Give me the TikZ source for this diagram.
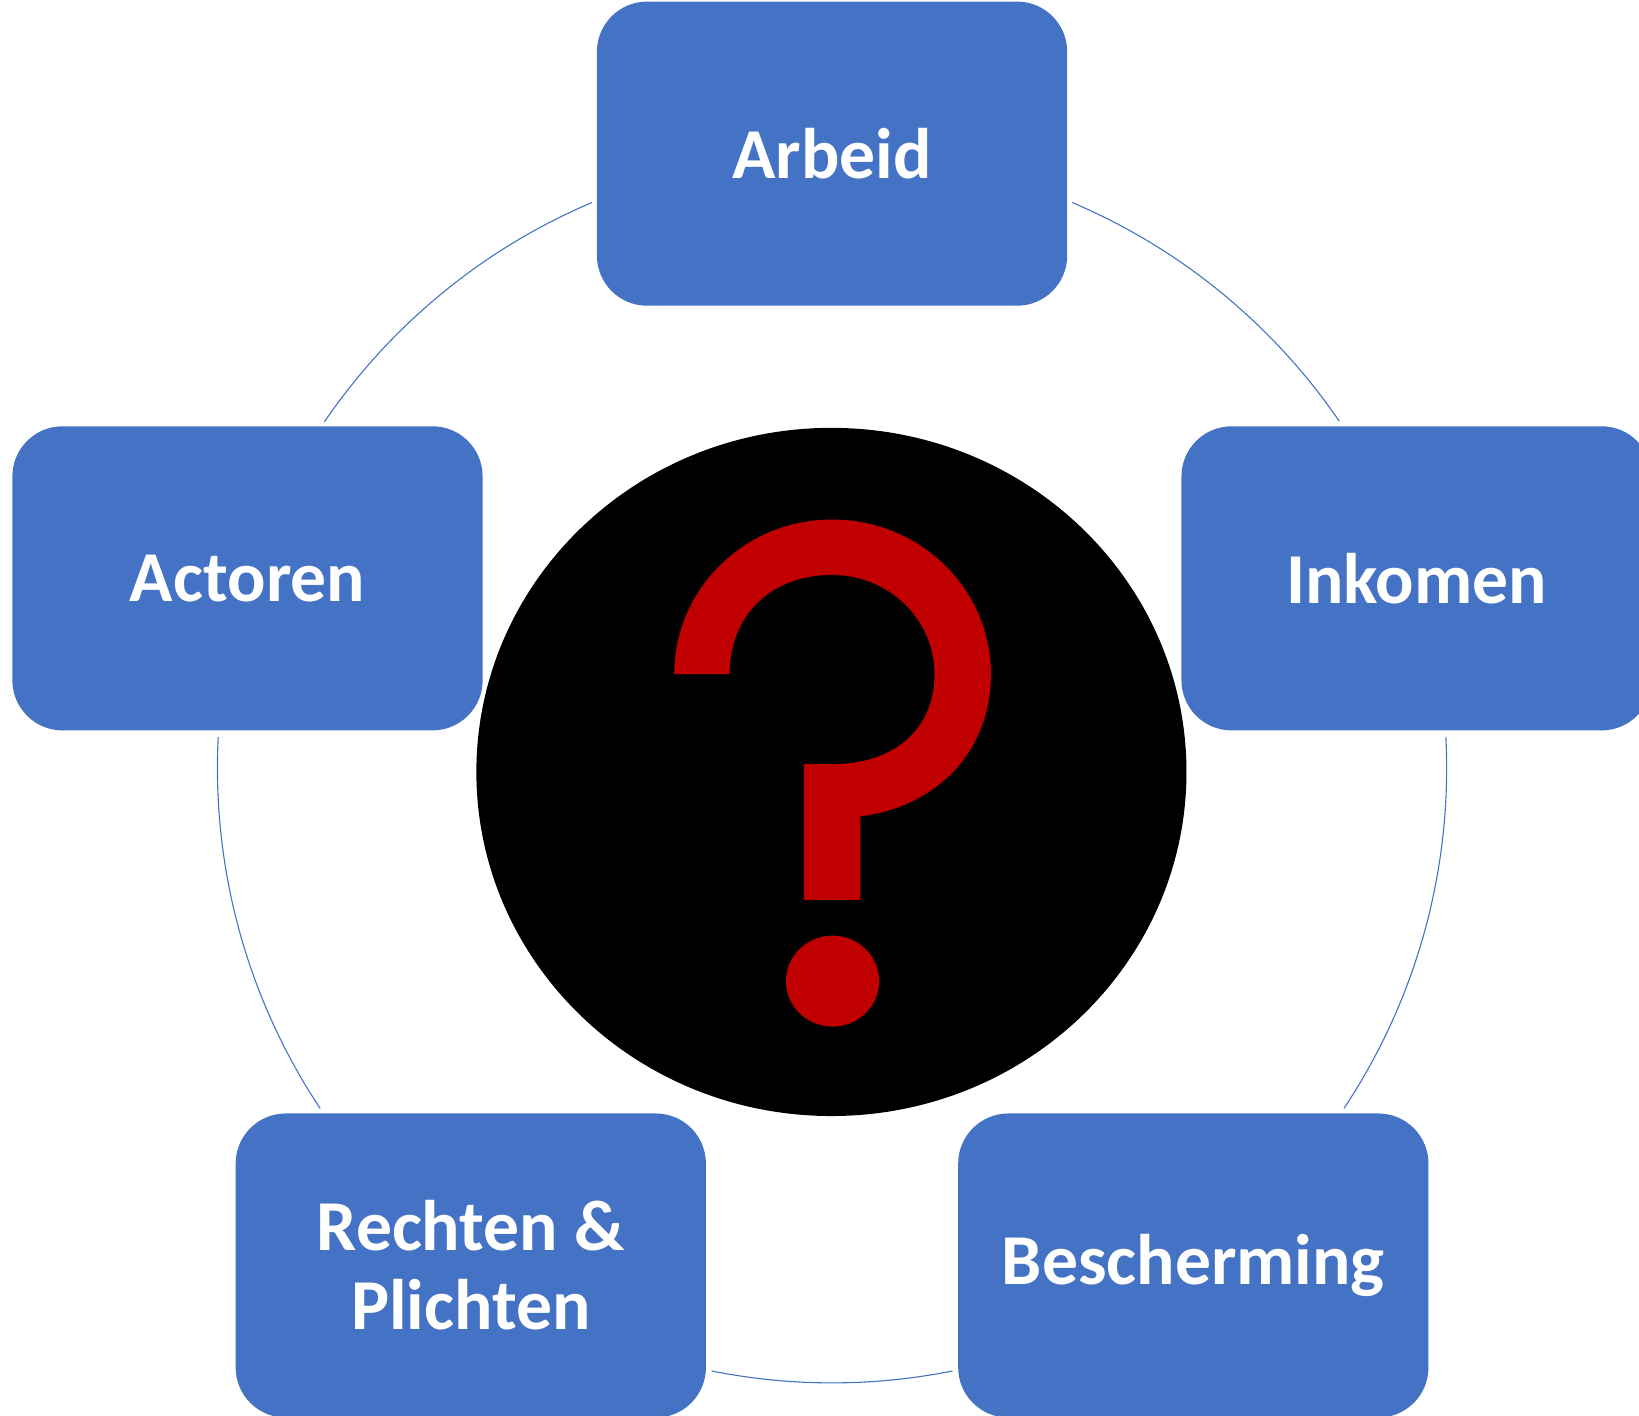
\documentclass[tikz,border=0pt]{standalone}
\usepackage{fontspec}
\setmainfont{Carlito}
\usetikzlibrary{positioning,calc,shapes.geometric}
\definecolor{boxblue}{HTML}{4472C4}
\definecolor{qred}{HTML}{C00000}

\begin{document}
\begin{tikzpicture}[x=0.02cm, y=0.02cm,
      topic/.style={rectangle, rounded corners=0.96cm, fill=boxblue, text=white,
        minimum width=9cm, minimum height=5.82cm, align=center,
        font=\fontsize{39}{43}\selectfont\bfseries},
      ring/.style={draw=boxblue, line width=0.6pt}]
    \useasboundingbox (0,0) rectangle (1568,-1354);
    \coordinate (hub) at (796,-735);
    % ring segments between the boxes
    \foreach \from/\to in {67/34.4, 2.9/-33.6, -78.7/-101.3, -146.4/-182.9, 145.7/113}
      \draw[ring] ($(hub)+(\from:588)$) arc[start angle=\from, end angle=\to, radius=588];
    % the five topics
    \foreach \name/\ang/\txt in {arbeid/90/Arbeid, inkomen/18/Inkomen,
        bescherming/-54/Bescherming, rechten/-126/{Rechten \&\\Plichten}, actoren/162/Actoren}
      \node (\name) [topic] at ($(hub)+(\ang:588)$) {\txt};
    % centre disc with question mark
    \node (disc) [ellipse, fill=black, inner sep=0pt, minimum width=13.59cm,
      minimum height=13.17cm] at (795.4,-738.5) {};
    \fill[qred] (645,-645) .. controls (645,-563) and (713,-497) .. (796,-497)
      .. controls (880,-497) and (948,-563) .. (948,-645)
      .. controls (948,-720) and (895,-772) .. (823,-781)
      -- (823,-861) -- (769,-861) -- (769,-731) -- (797,-731)
      .. controls (855,-731) and (894,-698) .. (894,-645)
      .. controls (894,-592) and (850,-550) .. (796,-550)
      .. controls (738,-550) and (698,-588) .. (698,-645) -- cycle;
    \fill[qred] (796.5,-938.6) ellipse [x radius=44.6, y radius=43.5];
  \end{tikzpicture}
\end{document}
